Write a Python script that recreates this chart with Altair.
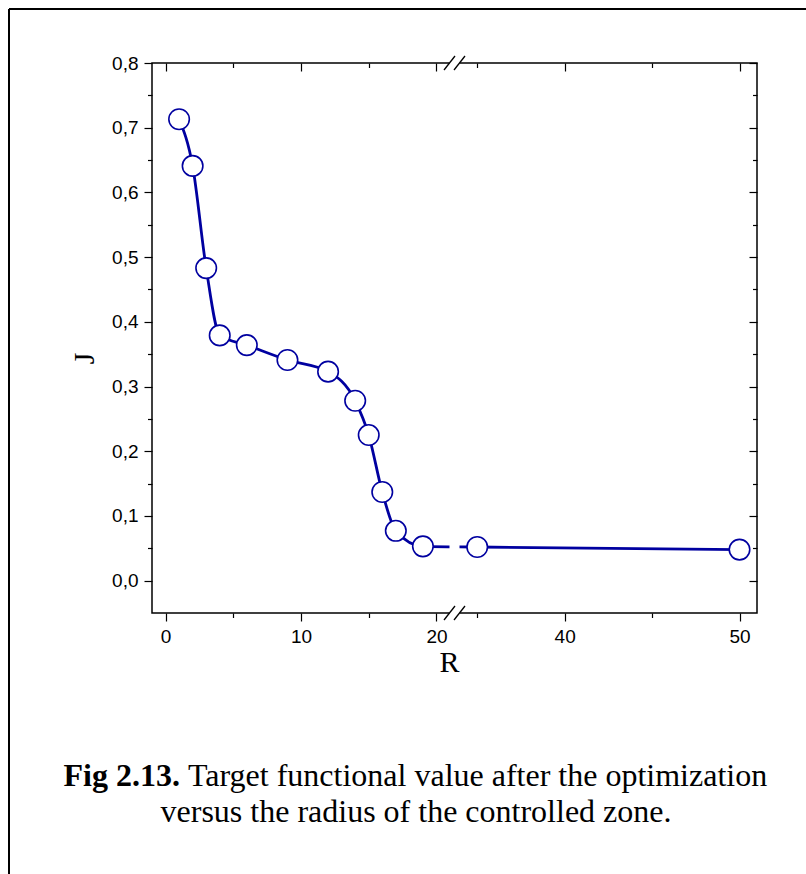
import altair as alt
import pandas as pd

# ---- data ----
R = [1, 2, 3, 4, 6, 9, 12, 14, 15, 16, 17, 19, 35, 50]
J = [0.713, 0.641, 0.483, 0.379, 0.364, 0.341, 0.323, 0.278, 0.225, 0.137, 0.077, 0.053, 0.052, 0.048]

x_major = [0, 10, 20, 40, 50]
x_minor = [5, 15, 35, 45]
y_major = [0.0, 0.1, 0.2, 0.3, 0.4, 0.5, 0.6, 0.7, 0.8]
y_minor = [0.05, 0.15, 0.25, 0.35, 0.45, 0.55, 0.65, 0.75]

x_domain = [-1, 21, 33.5, 51]      # broken axis: 0..21 | 33.5..51
y_domain = [-0.05, 0.8]

x_title = "R"
y_title = "J"
caption_bold = "Fig 2.13."
caption_1 = "Target functional value after the optimization"
caption_2 = "versus the radius of the controlled zone."

df = pd.DataFrame({"R": R, "J": J})
one = pd.DataFrame({"k": [0]})

W, H = 605, 550
BLUE = "#0000a0"
SANS = "Liberation Sans"
SERIF = "Liberation Serif"

xs = alt.Scale(domain=x_domain, range=[0, 298, 299, W], nice=False, zero=False)
ys = alt.Scale(domain=y_domain, nice=False, zero=False)

common = dict(grid=False, domain=False, tickColor="black", tickWidth=1.2,
              labelColor="black", labelFont=SANS, labelFontSize=19, labelFlush=False)

y_label_expr = "replace(format(datum.value, '.1f'), '.', ',')"

# main line with bottom/left major axes
line = alt.Chart(df).mark_line(color=BLUE, strokeWidth=2.8, interpolate="monotone").encode(
    x=alt.X("R:Q", scale=xs, axis=alt.Axis(
        orient="bottom", values=x_major, format="d", tickSize=8, labelPadding=6,
        title=x_title, titleFont=SERIF, titleFontSize=30, titleFontWeight="normal",
        titleColor="black", titleX=297, titleY=58, titleBaseline="alphabetic",
        titleAlign="center", **common)),
    y=alt.Y("J:Q", scale=ys, axis=alt.Axis(
        orient="left", values=y_major, labelExpr=y_label_expr, tickSize=8, labelPadding=6,
        title=y_title, titleFont=SERIF, titleFontSize=30, titleFontWeight="normal",
        titleColor="black", titleX=-59, titleY=295, titleBaseline="alphabetic",
        titleAlign="center", titleAngle=270, **common)),
)

# break gap (white) over frame and line
gap = alt.Chart(one).mark_rect(color="white").encode(
    x=alt.value(297.5), x2=alt.value(307.5), y=alt.value(-3), y2=alt.value(H + 3))

# points with bottom/left minor axes
points = alt.Chart(df).mark_point(shape="circle", size=420, fill="white", fillOpacity=1,
                                  stroke=BLUE, strokeWidth=1.6, opacity=1).encode(
    x=alt.X("R:Q", scale=xs, axis=alt.Axis(orient="bottom", values=x_minor, labels=False,
                                           tickSize=4.5, title=None, **common)),
    y=alt.Y("J:Q", scale=ys, axis=alt.Axis(orient="left", values=y_minor, labels=False,
                                           tickSize=4.5, title=None, **common)),
)

# invisible layers carrying inward top/right ticks
top_right_major = alt.Chart(df).mark_point(opacity=0).encode(
    x=alt.X("R:Q", scale=xs, axis=alt.Axis(orient="top", values=x_major, labels=False,
                                           tickSize=8, offset=-8, title=None, **common)),
    y=alt.Y("J:Q", scale=ys, axis=alt.Axis(orient="right", values=y_major, labels=False,
                                           tickSize=8, offset=-8, title=None, **common)),
)
top_right_minor = alt.Chart(df).mark_point(opacity=0).encode(
    x=alt.X("R:Q", scale=xs, axis=alt.Axis(orient="top", values=x_minor, labels=False,
                                           tickSize=4.5, offset=-4.5, title=None, **common)),
    y=alt.Y("J:Q", scale=ys, axis=alt.Axis(orient="right", values=y_minor, labels=False,
                                           tickSize=4.5, offset=-4.5, title=None, **common)),
)

def slash(x0, y0, x1, y1):
    return alt.Chart(one).mark_rule(color="black", strokeWidth=1.3).encode(
        x=alt.value(x0), y=alt.value(y0), x2=alt.value(x1), y2=alt.value(y1))

slashes = [
    slash(292, 7, 303, -7), slash(302, 7, 313, -7),
    slash(292, H + 7, 303, H - 7), slash(302, H + 7, 313, H - 7),
]

# outer page frame (left and top edges)
border_left = alt.Chart(one).mark_rule(color="black", strokeWidth=2).encode(
    x=alt.value(-143), y=alt.value(-54), y2=alt.value(900))
border_top = alt.Chart(one).mark_rule(color="black", strokeWidth=2).encode(
    x=alt.value(-143), x2=alt.value(700), y=alt.value(-54))

cap_b = alt.Chart(one).mark_text(font=SERIF, fontSize=32, fontWeight="bold", align="right",
                                 baseline="alphabetic", color="black").encode(
    x=alt.value(28), y=alt.value(723), text=alt.value(caption_bold))
cap_1 = alt.Chart(one).mark_text(font=SERIF, fontSize=32, align="left",
                                 baseline="alphabetic", color="black").encode(
    x=alt.value(36), y=alt.value(723), text=alt.value(caption_1))
cap_2 = alt.Chart(one).mark_text(font=SERIF, fontSize=32, align="center",
                                 baseline="alphabetic", color="black").encode(
    x=alt.value(264), y=alt.value(759), text=alt.value(caption_2))

chart = alt.layer(
    line, gap, points, top_right_major, top_right_minor, *slashes,
    border_left, border_top, cap_b, cap_1, cap_2,
).resolve_axis(x="independent", y="independent").properties(
    width=W, height=H,
    background="white",
    autosize=alt.AutoSizeParams(type="none"),
    padding={"left": 152, "top": 63, "right": 49, "bottom": 261},
).configure_view(stroke="black", strokeWidth=1.5)

chart.save("out.html", embed_options={"renderer": "svg", "actions": False})
